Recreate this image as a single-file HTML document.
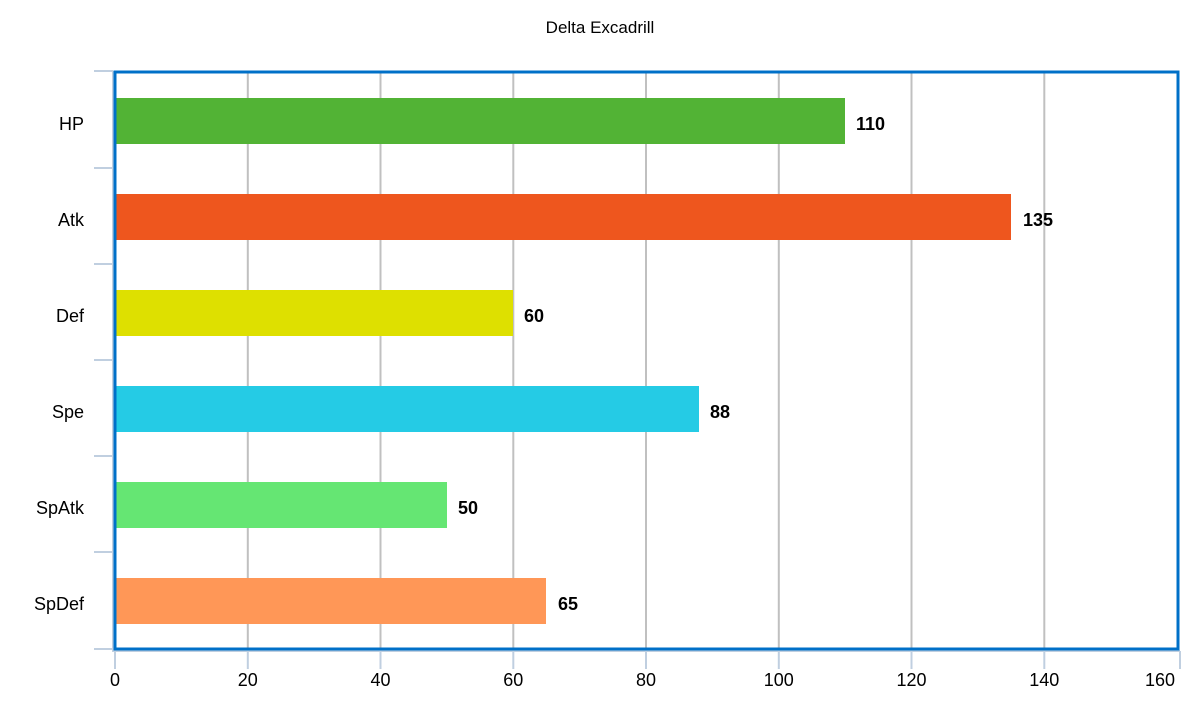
<!DOCTYPE html><html><head><style>body{margin:0;background:#fff}</style></head><body>
<svg width="1200" height="700" xmlns="http://www.w3.org/2000/svg" font-family="Liberation Sans, Arial, sans-serif">
<text x="600" y="33" text-anchor="middle" font-size="17">Delta Excadrill</text>
<g stroke="#c0c0c0" stroke-width="2">
<line x1="247.8" y1="72" x2="247.8" y2="650"/><line x1="380.5" y1="72" x2="380.5" y2="650"/><line x1="513.3" y1="72" x2="513.3" y2="650"/><line x1="646" y1="72" x2="646" y2="650"/><line x1="778.8" y1="72" x2="778.8" y2="650"/><line x1="911.5" y1="72" x2="911.5" y2="650"/><line x1="1044.3" y1="72" x2="1044.3" y2="650"/>
</g>
<g stroke="#c0cfe0" stroke-width="2">
<line x1="113" y1="71" x2="113" y2="652"/><line x1="113" y1="651" x2="1180" y2="651"/>
<line x1="94" y1="71" x2="113" y2="71"/><line x1="94" y1="168" x2="113" y2="168"/><line x1="94" y1="264" x2="113" y2="264"/><line x1="94" y1="360" x2="113" y2="360"/><line x1="94" y1="456" x2="113" y2="456"/><line x1="94" y1="552" x2="113" y2="552"/><line x1="94" y1="649" x2="113" y2="649"/>
<line x1="115" y1="651" x2="115" y2="669"/><line x1="247.8" y1="651" x2="247.8" y2="669"/><line x1="380.5" y1="651" x2="380.5" y2="669"/><line x1="513.3" y1="651" x2="513.3" y2="669"/><line x1="646" y1="651" x2="646" y2="669"/><line x1="778.8" y1="651" x2="778.8" y2="669"/><line x1="911.5" y1="651" x2="911.5" y2="669"/><line x1="1044.3" y1="651" x2="1044.3" y2="669"/><line x1="1180" y1="651" x2="1180" y2="669"/>
</g>
<rect x="115" y="98" width="730" height="46" fill="#52b335"/>
<rect x="115" y="194" width="896" height="46" fill="#ee561e"/>
<rect x="115" y="290" width="398" height="46" fill="#dee000"/>
<rect x="115" y="386" width="584" height="46" fill="#25cbe5"/>
<rect x="115" y="482" width="332" height="46" fill="#65e673"/>
<rect x="115" y="578" width="431" height="46" fill="#ff9757"/>
<rect x="115" y="72" width="1063" height="577" fill="none" stroke="#0070c8" stroke-width="3"/>
<g font-size="18" font-weight="bold">
<text x="856" y="130">110</text><text x="1023" y="226">135</text><text x="524" y="322">60</text><text x="710" y="418">88</text><text x="458" y="514">50</text><text x="558" y="610">65</text>
</g>
<g font-size="18" text-anchor="end">
<text x="84" y="130">HP</text><text x="84" y="226">Atk</text><text x="84" y="322">Def</text><text x="84" y="418">Spe</text><text x="84" y="514">SpAtk</text><text x="84" y="610">SpDef</text>
</g>
<g font-size="18" text-anchor="middle">
<text x="115" y="686">0</text><text x="247.8" y="686">20</text><text x="380.5" y="686">40</text><text x="513.3" y="686">60</text><text x="646" y="686">80</text><text x="778.8" y="686">100</text><text x="911.5" y="686">120</text><text x="1044.3" y="686">140</text><text x="1160" y="686">160</text>
</g>
</svg></body></html>
